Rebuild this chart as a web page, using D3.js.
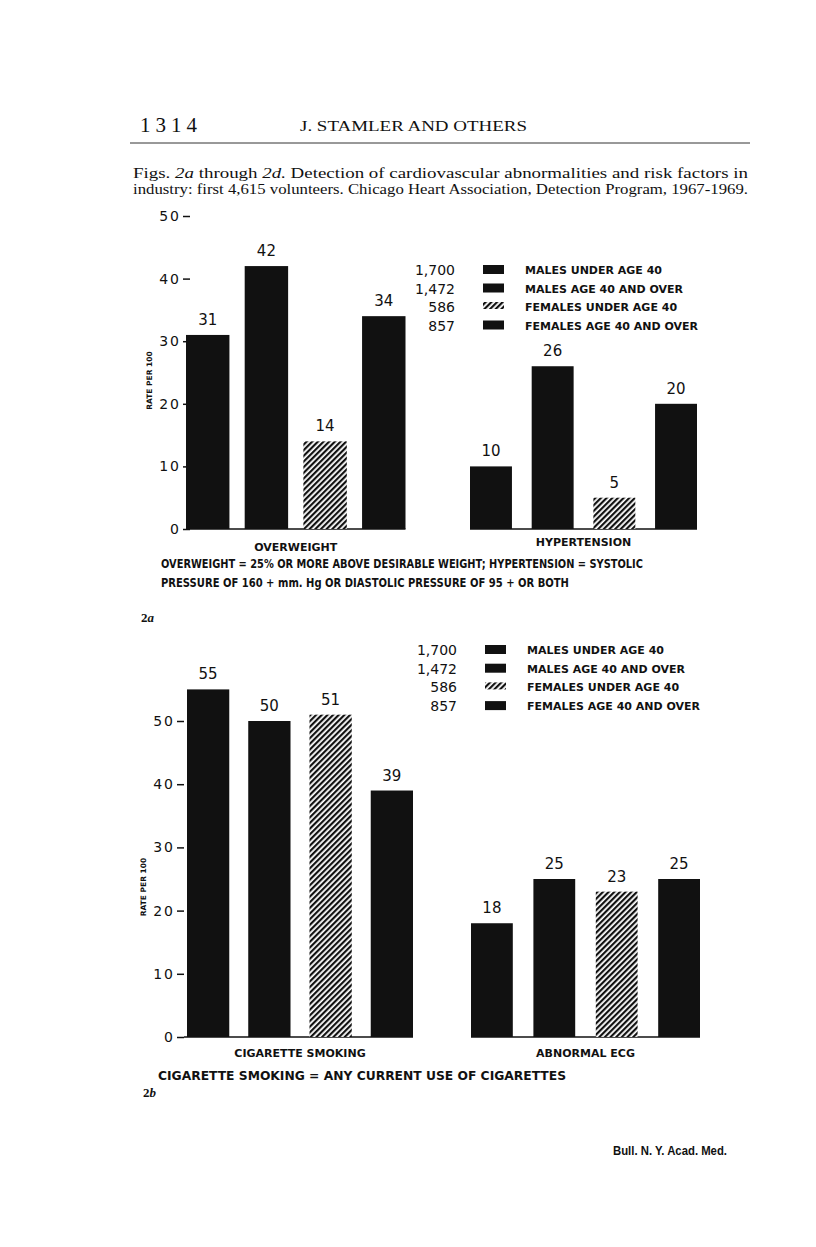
<!DOCTYPE html>
<html>
<head>
<meta charset="utf-8">
<script src="https://cdn.jsdelivr.net/npm/d3@7"></script>
<style>
  body { margin: 0; background: #fff; }
  svg text { fill: #111; }
  .hand { font-family: "DejaVu Sans", sans-serif; font-weight: bold; }
  .num { font-family: "DejaVu Sans", sans-serif; font-weight: normal; }
  .serif { font-family: "Liberation Serif", serif; }
</style>
</head>
<body>
<script>
// series (same for both figures)
var series = ["Males under 40", "Males 40+", "Females under 40", "Females 40+"];
var legendCounts = ["1,700", "1,472", "586", "857"];
var legendLabels = ["MALES UNDER AGE 40", "MALES AGE 40 AND OVER", "FEMALES UNDER AGE 40", "FEMALES AGE 40 AND OVER"];
var yTicks = [0, 10, 20, 30, 40, 50];

// fig 2a
var overweight = [31, 42, 14, 34];
var hypertension = [10, 26, 5, 20];
// fig 2b
var smoking = [55, 50, 51, 39];
var abnormalEcg = [18, 25, 23, 25];

var svg = d3.select("body").append("svg")
    .attr("width", 816)
    .attr("height", 1247);

var defs = svg.append("defs");
var pat = defs.append("pattern")
    .attr("id", "hatch")
    .attr("patternUnits", "userSpaceOnUse")
    .attr("width", 4)
    .attr("height", 4)
    .attr("patternTransform", "rotate(45)");
pat.append("rect").attr("width", 4).attr("height", 4).attr("fill", "#fff");
pat.append("rect").attr("width", 2.2).attr("height", 4).attr("fill", "#111");

function fillFor(i) {
    return i == 2 ? "url(#hatch)" : "#111";
}

// page header
svg.append("text").attr("class", "serif")
    .attr("x", 140).attr("y", 132)
    .attr("font-size", 21).attr("letter-spacing", 5)
    .text("1314");
svg.append("text").attr("class", "serif")
    .attr("x", 300).attr("y", 131)
    .attr("font-size", 15)
    .attr("textLength", 227).attr("lengthAdjust", "spacingAndGlyphs")
    .text("J. STAMLER AND OTHERS");
svg.append("line")
    .attr("x1", 130).attr("x2", 750).attr("y1", 143).attr("y2", 143)
    .attr("stroke", "#333").attr("stroke-width", 1);

svg.append("text").attr("class", "serif")
    .attr("x", 133).attr("y", 178).attr("font-size", 14)
    .attr("textLength", 615).attr("lengthAdjust", "spacingAndGlyphs")
    .html("Figs. <tspan font-style='italic'>2a</tspan> through <tspan font-style='italic'>2d.</tspan> Detection of cardiovascular abnormalities and risk factors in");
svg.append("text").attr("class", "serif")
    .attr("x", 133).attr("y", 194).attr("font-size", 14)
    .attr("textLength", 615).attr("lengthAdjust", "spacingAndGlyphs")
    .text("industry: first 4,615 volunteers. Chicago Heart Association, Detection Program, 1967-1969.");

function drawPanel(p) {
    var g = svg.append("g");
    var y = d3.scaleLinear().domain([0, 50]).range([p.y0, p.y50]);

    var axis = d3.axisLeft(y).tickValues(yTicks).tickSize(7).tickPadding(2);
    var ax = g.append("g")
        .attr("transform", "translate(" + p.axisX + ",0)")
        .call(axis);
    ax.select(".domain").remove();
    ax.selectAll("line").attr("stroke", "#111").attr("stroke-width", 1.5);
    ax.selectAll("text")
        .attr("class", "num")
        .attr("font-size", 14)
        .attr("letter-spacing", 2)
        .attr("fill", "#111");

    g.append("text").attr("class", "hand")
        .attr("transform", "translate(" + (p.axisX - 38) + "," + ((p.y0 + p.y50) / 2 + 8) + ") rotate(-90)")
        .attr("text-anchor", "middle")
        .attr("font-size", 7.5)
        .text("RATE PER 100");

    p.groups.forEach(function(grp) {
        var x = d3.scaleBand().domain(series).range(grp.range).paddingInner(grp.pad);

        g.append("line")
            .attr("x1", grp.lineStart).attr("x2", grp.range[1])
            .attr("y1", y(0)).attr("y2", y(0))
            .attr("stroke", "#111").attr("stroke-width", 1.5);

        g.selectAll(null)
            .data(grp.values)
            .enter()
            .append("rect")
            .attr("x", function(d, i) { return x(series[i]); })
            .attr("y", function(d) { return y(d); })
            .attr("width", x.bandwidth())
            .attr("height", function(d) { return y(0) - y(d); })
            .attr("fill", function(d, i) { return fillFor(i); });

        g.selectAll(null)
            .data(grp.values)
            .enter()
            .append("text")
            .attr("class", "num")
            .attr("font-size", 15)
            .attr("text-anchor", "middle")
            .attr("x", function(d, i) { return x(series[i]) + x.bandwidth() / 2; })
            .attr("y", function(d) { return y(d) - 10; })
            .text(function(d) { return d; });

        g.append("text").attr("class", "hand")
            .attr("font-size", 11)
            .attr("text-anchor", "middle")
            .attr("x", (grp.range[0] + grp.range[1]) / 2)
            .attr("y", y(0) + grp.labelDy)
            .text(grp.label);
    });

    // legend
    var leg = g.append("g");
    legendCounts.forEach(function(c, i) {
        var ly = p.legY + i * p.legStep;
        leg.append("text").attr("class", "num")
            .attr("font-size", 14)
            .attr("text-anchor", "end")
            .attr("x", p.legX).attr("y", ly + 5)
            .text(c);
        leg.append("rect")
            .attr("x", p.legX + 28).attr("y", ly - 5)
            .attr("width", 21).attr("height", i == 2 ? 7 : 9)
            .attr("fill", fillFor(i));
        leg.append("text").attr("class", "hand")
            .attr("font-size", 11)
            .attr("x", p.legX + 70).attr("y", ly + 4)
            .text(legendLabels[i]);
    });

    p.notes.forEach(function(n) {
        g.append("text").attr("class", "hand")
            .attr("font-size", 11.5)
            .attr("x", n.x).attr("y", n.y)
            .attr("textLength", n.w).attr("lengthAdjust", "spacingAndGlyphs")
            .text(n.text);
    });

    g.append("text").attr("class", "serif")
        .attr("font-weight", "bold").attr("font-size", 13)
        .attr("x", p.figX).attr("y", p.figY)
        .html(p.fig);
}

drawPanel({
    y0: 529, y50: 216, axisX: 190,
    legX: 455, legY: 270, legStep: 18.5,
    groups: [
        { values: overweight, range: [186, 405.5], pad: 0.26, lineStart: 190, label: "OVERWEIGHT", labelDy: 22 },
        { values: hypertension, range: [470, 697], pad: 0.32, lineStart: 470, label: "HYPERTENSION", labelDy: 17 }
    ],
    notes: [
        { x: 161, y: 568, w: 482, text: "OVERWEIGHT = 25% OR MORE ABOVE DESIRABLE WEIGHT; HYPERTENSION = SYSTOLIC" },
        { x: 161, y: 587, w: 408, text: "PRESSURE OF 160 + mm. Hg OR DIASTOLIC PRESSURE OF 95 + OR BOTH" }
    ],
    fig: "2<tspan font-style='italic'>a</tspan>", figX: 141, figY: 622
});

drawPanel({
    y0: 1037, y50: 721, axisX: 184,
    legX: 457, legY: 650, legStep: 18.7,
    groups: [
        { values: smoking, range: [187, 413], pad: 0.31, lineStart: 184, label: "CIGARETTE SMOKING", labelDy: 20 },
        { values: abnormalEcg, range: [471, 700], pad: 0.33, lineStart: 471, label: "ABNORMAL ECG", labelDy: 20 }
    ],
    notes: [
        { x: 158, y: 1080, w: 408, text: "CIGARETTE SMOKING = ANY CURRENT USE OF CIGARETTES" }
    ],
    fig: "2<tspan font-style='italic'>b</tspan>", figX: 143, figY: 1097
});

// journal footer
svg.append("text")
    .attr("font-family", "Liberation Sans Narrow, Liberation Sans, sans-serif")
    .attr("font-weight", "bold").attr("font-size", 13)
    .attr("x", 613).attr("y", 1155)
    .attr("textLength", 114).attr("lengthAdjust", "spacingAndGlyphs")
    .text("Bull. N. Y. Acad. Med.");
</script>
</body>
</html>
